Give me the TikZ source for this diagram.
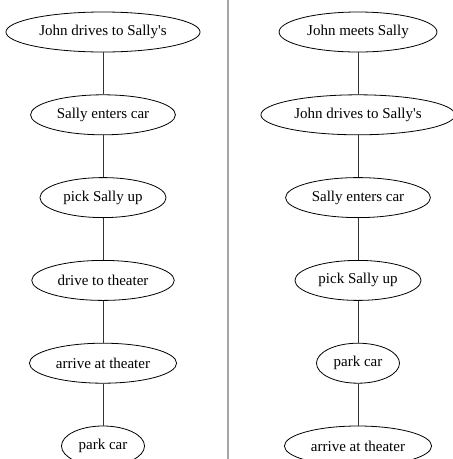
\documentclass[tikz,border=0pt]{standalone}
\usepackage{fontspec}
\setmainfont{Liberation Serif}
\usetikzlibrary{positioning,shapes.geometric}

\tikzset{
  event/.style={draw, ellipse, line width=0.8pt, minimum height=40pt, inner xsep=5pt, inner ysep=0pt,
    font=\fontsize{15}{18}\selectfont},
  link/.style={draw, line width=0.7pt, black!80}
}

\begin{document}
\begin{tikzpicture}[x=1pt,y=1pt,node distance=42pt]
\useasboundingbox (0,0) rectangle (453,-459);

% separator
\draw [gray!70, line width=1.6pt] (228,0) -- (228,-459);

% first story
\node [event] (l1) at (103,-32) {John drives to Sally\textquotesingle s};
\node [event, below=of l1] (l2) {Sally enters car};
\node [event, below=of l2] (l3) {pick Sally up};
\node [event, below=of l3] (l4) {drive to theater};
\node [event, below=of l4] (l5) {arrive at theater};
\node [event, below=of l5] (l6) {park car};

% second story
\node [event] (r1) at (358,-32) {John meets Sally};
\node [event, below=of r1] (r2) {John drives to Sally\textquotesingle s};
\node [event, below=of r2] (r3) {Sally enters car};
\node [event, below=of r3] (r4) {pick Sally up};
\node [event, below=of r4] (r5) {park car};
\node [event, below=of r5] (r6) {arrive at theater};

% links
\foreach \a/\b in {1/2,2/3,3/4,4/5,5/6} {
  \path [link] (l\a) -- (l\b);
  \path [link] (r\a) -- (r\b);
}
\end{tikzpicture}
\end{document}
